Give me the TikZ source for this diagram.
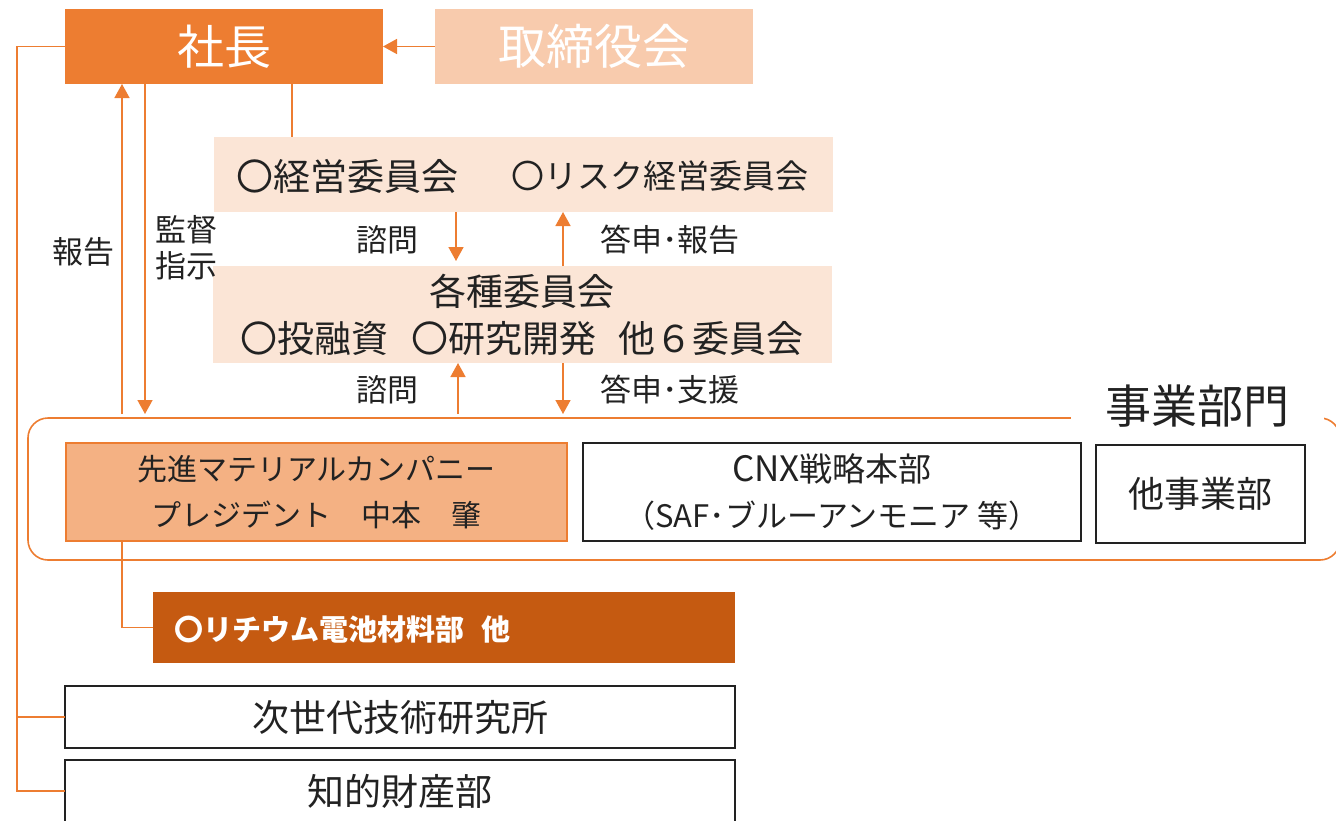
\documentclass[tikz,border=0pt]{standalone}
\usepackage{fontspec}
\setmainfont{Noto Sans CJK JP}
\usetikzlibrary{arrows.meta}
\definecolor{orgA}{HTML}{ED7D31}
\definecolor{orgB}{HTML}{F8CBAD}
\definecolor{orgC}{HTML}{FBE5D6}
\definecolor{orgD}{HTML}{F4B183}
\definecolor{orgE}{HTML}{C55A11}
\definecolor{txt}{HTML}{222222}
\begin{document}
\begin{tikzpicture}[x=1pt,y=-1pt,
  box/.style={minimum width=#1, inner sep=0pt, outer sep=0pt, text=txt},
  conn/.style={draw=orgA, line width=1.6pt},
  arr/.style={conn, -{Triangle[width=15pt,length=14pt]}},
  lbl/.style={text=txt, font=\fontsize{31}{34}\selectfont, inner sep=0pt},
]
\useasboundingbox (0,0) rectangle (1336,820);
% top boxes
\node[box=318pt, minimum height=75pt, fill=orgA, text=white, font=\fontsize{47}{50}\selectfont] (pres) at (224,46.5) {社長};
\node[box=318pt, minimum height=75pt, fill=orgB, text=white, font=\fontsize{48}{50}\selectfont] (board) at (594,46.5) {取締役会};
% committee boxes
\node[box=619pt, minimum height=75pt, fill=orgC] (com1) at (523.5,174.5) {};
\node[lbl, anchor=west, font=\fontsize{37}{38}\selectfont] (c1a) at (236,176) {〇経営委員会};
\node[lbl, anchor=west, font=\fontsize{33}{36}\selectfont] (c1b) at (511,176) {〇リスク経営委員会};
\node[box=619pt, minimum height=97pt, fill=orgC, align=center, font=\fontsize{37}{47}\selectfont] (com2) at (522,314.5) {各種委員会\\〇投融資\hspace{0.6em}〇研究開発\hspace{0.6em}他６委員会};
% division frame
\draw[conn, rounded corners=20pt] (28,418) rectangle (1340,560);
\node[fill=white, minimum width=253pt, minimum height=30pt, inner sep=0pt, text=txt, font=\fontsize{46}{50}\selectfont] (divl) at (1197,406) {事業部門};
\node[box=501pt, minimum height=98pt, fill=orgD, draw=orgA, line width=1.6pt, align=center, font=\fontsize{30}{46}\selectfont] (sen) at (316.5,492) {先進マテリアルカンパニー\\プレジデント\hspace{1em}中本\hspace{1em}肇};
\node[box=498pt, minimum height=98pt, draw=txt, line width=1.8pt, align=center, font=\fontsize{31}{46}\selectfont] (cnx) at (832,492) {{\fontsize{35}{46}\selectfont CNX}{\fontsize{33}{46}\selectfont 戦略本部}\\（SAF･ブルーアンモニア 等）};
\node[box=209pt, minimum height=98pt, draw=txt, line width=1.8pt, font=\fontsize{36}{38}\selectfont] (oth) at (1200.5,494) {他事業部};
% lower boxes
\node[box=582pt, minimum height=71pt, fill=orgE] (li) at (444,627.5) {};
\node[anchor=west, inner sep=0pt, text=white, font=\bfseries\fontsize{29}{32}\selectfont] (lit) at (174,629) {〇リチウム電池材料部\hspace{0.6em}他};
\node[box=670pt, minimum height=62pt, draw=txt, line width=1.8pt, font=\fontsize{37}{38}\selectfont] (nxt) at (400,717) {次世代技術研究所};
\node[box=670pt, minimum height=62pt, draw=txt, line width=1.8pt, font=\fontsize{37}{38}\selectfont] (ip) at (400,791) {知的財産部};
% labels
\node[lbl] (l1) at (387,240) {諮問};
\node[lbl] (l2) at (670,240) {答申･報告};
\node[lbl] (l3) at (387,390) {諮問};
\node[lbl] (l4) at (670,390) {答申･支援};
\node[lbl] (l5) at (83,252) {報告};
\node[lbl, align=center, font=\fontsize{31}{36}\selectfont] (l6) at (186,248) {監督\\指示};
% coordinates
\coordinate (frtop) at (0,414);
% connectors
\draw[arr] (board.west) -- (pres.east);
\draw[conn] (pres.west) -- (17,46.5) |- (ip.west);
\draw[conn] (17,717) -- (nxt.west);
\draw[arr] (frtop -| 122,0) -- (pres.south -| 122,0);
\draw[arr] (pres.south -| 145,0) -- (frtop -| 145,0);
\draw[conn] (pres.south -| 292,0) -- (com1.north -| 292,0);
\draw[arr, shorten >=5pt] (com1.south -| 456,0) -- (com2.north -| 456,0);
\draw[arr] (com2.north -| 563,0) -- (com1.south -| 563,0);
\draw[arr] (frtop -| 458,0) -- (com2.south -| 458,0);
\draw[arr] (com2.south -| 563,0) -- (frtop -| 563,0);
\draw[conn] (sen.south -| 122,0) |- (li.west);
\end{tikzpicture}
\end{document}
